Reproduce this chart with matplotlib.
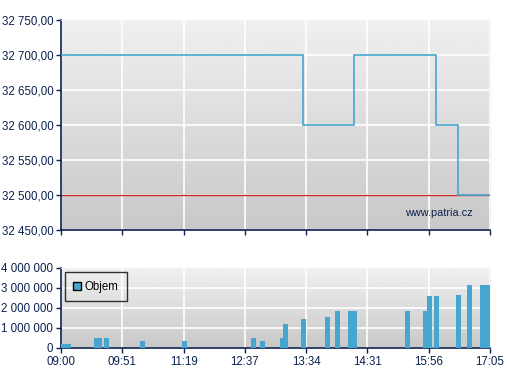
import numpy as np
import matplotlib.pyplot as plt
from matplotlib.ticker import FuncFormatter
from matplotlib.lines import Line2D

plt.rcParams['font.family'] = ['Liberation Sans', 'DejaVu Sans']

# x axis is a trade-index axis: 8 evenly spaced ticks
tick_labels = ['09:00', '09:51', '11:19', '12:37', '13:34', '14:31', '15:56', '17:05']
tick_pos = list(range(len(tick_labels)))

# price steps (x in tick units)
price_x = [0, 3.953, 4.786, 6.118, 6.483, 7.0]
price_y = [32700, 32600, 32700, 32600, 32500, 32500]
ref_price = 32500

# volume bars (left edge in tick units, volume)
vol_x = [0.0, 0.082, 0.538, 0.582, 0.702, 1.289, 1.974, 3.100, 3.247, 3.573,
         3.622, 3.916, 4.307, 4.471, 4.683, 4.748, 5.613, 5.906, 5.972, 6.053,
         6.086, 6.445, 6.624, 6.836, 6.918]
vol_y = [200000, 200000, 500000, 500000, 500000, 370000, 370000, 500000, 370000, 500000,
         1200000, 1450000, 1550000, 1850000, 1850000, 1850000, 1850000, 1850000, 2600000, 50000,
         2600000, 2650000, 3150000, 3150000, 3150000]

navy = '#0b2150'
blue = '#46a6cf'

W, H = 507, 380
fig = plt.figure(figsize=(W / 100, H / 100), dpi=100)
ax1 = fig.add_axes([61 / W, 1 - 230 / H, 429 / W, 210 / H])
ax2 = fig.add_axes([61 / W, 1 - 348 / H, 429 / W, 80 / H])

grad = np.linspace(0.94, 0.785, 256).reshape(-1, 1)


def style(ax):
    ax.imshow(grad, cmap='gray', vmin=0, vmax=1, aspect='auto',
              extent=[0, 1, 0, 1], transform=ax.transAxes, zorder=0)
    ax.set_axisbelow(True)
    ax.grid(True, color='white', linewidth=1.2)
    for s in ['top', 'right']:
        ax.spines[s].set_color('#f4f4f4')
        ax.spines[s].set_linewidth(0.8)
    for s in ['left', 'bottom']:
        ax.spines[s].set_color(navy)
        ax.spines[s].set_linewidth(1.2)
    ax.tick_params(colors=navy, labelcolor=navy, labelsize=8.3, length=3.5,
                   width=1, pad=2)
    ax.set_xlim(0, 7)
    ax.set_xticks(tick_pos)


style(ax1)
ax1.set_ylim(32450, 32750)
ax1.set_yticks(np.arange(32450, 32751, 50))
ax1.yaxis.set_major_formatter(FuncFormatter(
    lambda v, p: '{:,.2f}'.format(v).replace(',', ' ').replace('.', ',')))
ax1.set_xticklabels([])
ax1.axhline(ref_price, color='#c0302a', linewidth=1, zorder=2)
ax1.plot(price_x, price_y, drawstyle='steps-post', color=blue, linewidth=1.2, zorder=3)
ax1.text(0.96, 0.08, 'www.patria.cz', transform=ax1.transAxes, ha='right',
         va='center', color=navy, fontsize=7.8)

style(ax2)
ax2.set_ylim(0, 4000000)
ax2.set_yticks(np.arange(0, 4000001, 1000000))
ax2.yaxis.set_major_formatter(FuncFormatter(
    lambda v, p: '{:,.0f}'.format(v).replace(',', ' ')))
ax2.set_xticklabels(tick_labels)
ax2.bar(vol_x, vol_y, width=0.0816, align='edge', color=blue, zorder=3)

handle = Line2D([], [], marker='s', linestyle='none', markersize=6,
                markerfacecolor=blue, markeredgecolor='black', markeredgewidth=1)
leg = ax2.legend([handle], ['Objem'], loc='upper left', fontsize=8.3,
                 frameon=True, fancybox=False, handletextpad=0.35,
                 borderpad=0.75, handlelength=0.6, bbox_to_anchor=(0.0, 1.0),
                 borderaxespad=0.35)
leg.get_frame().set_edgecolor('black')
leg.get_frame().set_facecolor('none')
leg.get_frame().set_linewidth(1)

fig.savefig('out.png', dpi=100)
